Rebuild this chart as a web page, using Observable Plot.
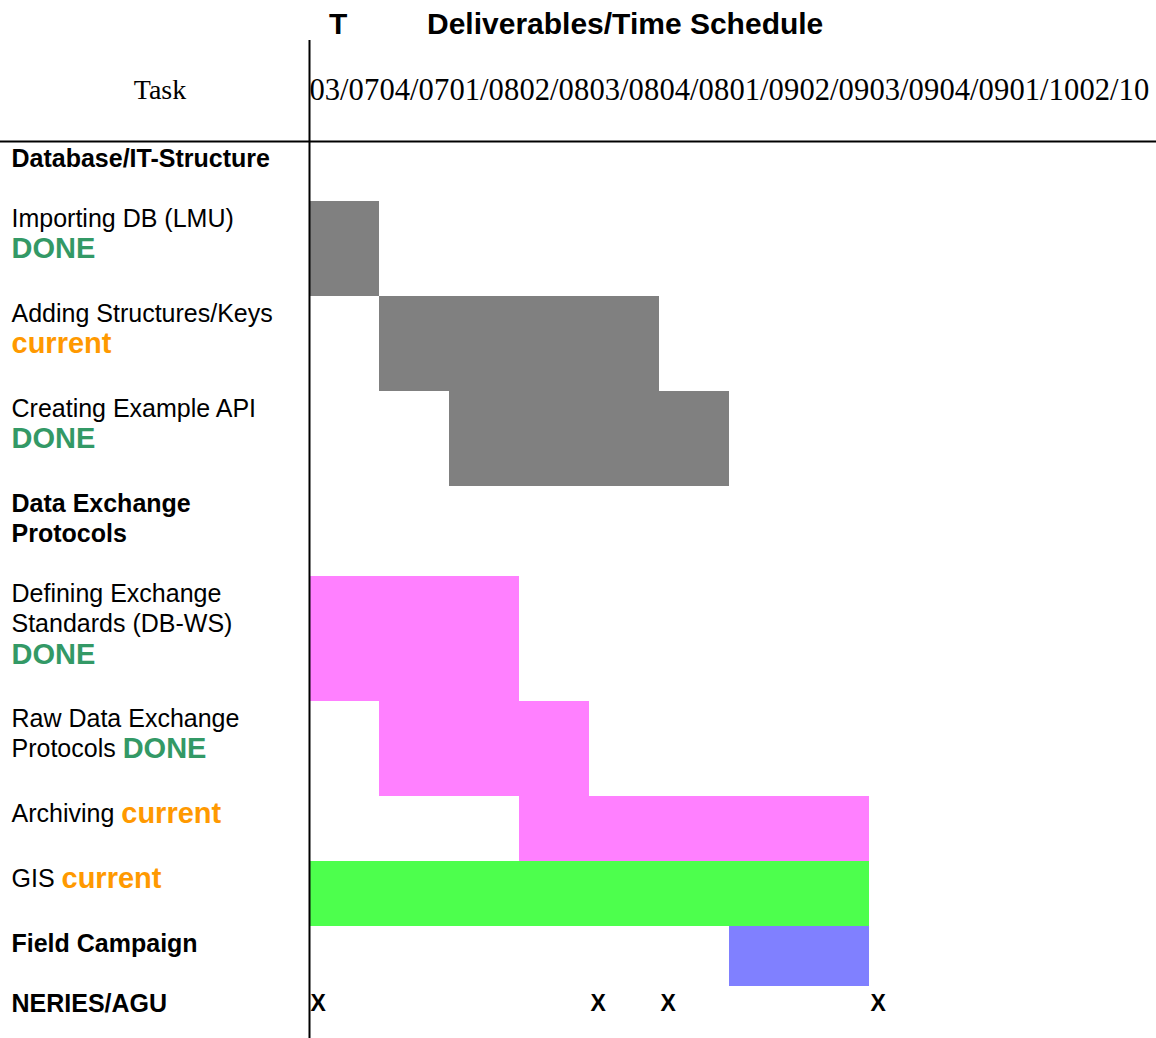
<!DOCTYPE html>
<html><head><meta charset="utf-8">
<script src="https://cdn.jsdelivr.net/npm/d3@7"></script>
<script src="https://cdn.jsdelivr.net/npm/@observablehq/plot@0.6"></script>
<style>
body{margin:0;background:#fff;}
#title{position:relative;height:40px;width:1156px;font-family:"Liberation Sans",Arial,sans-serif;font-weight:bold;font-size:30px;color:#000;}
#title span{position:absolute;top:9px;line-height:1;white-space:nowrap;}
#chart svg{display:block;}
</style></head><body>
<div id="title"><span style="left:329px">T</span><span style="left:427px">Deliverables/Time Schedule</span></div>
<div id="chart"></div>
<script>
// ---- data ----
const quarters = ["03/07","04/07","01/08","02/08","03/08","04/08","01/09","02/09","03/09","04/09","01/10","02/10"];
const tasks = ["Database/IT-Structure","Importing DB (LMU)","Adding Structures/Keys","Creating Example API","Data Exchange\nProtocols","Defining Exchange\nStandards (DB-WS)","Raw Data Exchange\nProtocols","Archiving","GIS","Field Campaign","NERIES/AGU"];
const sectionHeader = [true,false,false,false,true,false,false,false,false,true,true];
const statusWord = ["","DONE","current","DONE","","DONE","DONE","current","current","",""];
const statusInline = [false,false,false,false,false,false,true,true,true,false,false];
const barTask  = ["Importing DB (LMU)","Adding Structures/Keys","Creating Example API","Defining Exchange\nStandards (DB-WS)","Raw Data Exchange\nProtocols","Archiving","GIS","Field Campaign"];
const barStart = ["03/07","04/07","01/08","03/07","04/07","02/08","03/07","01/09"];
const barEnd   = ["03/07","03/08","04/08","01/08","02/08","02/09","02/09","02/09"];
const barGroup = ["Database","Database","Database","Exchange","Exchange","Exchange","GIS","Field"];
const milestoneTask = "NERIES/AGU";
const milestones = ["03/07","03/08","04/08","03/09"];
const groups = ["Database","Exchange","GIS","Field"];
const groupColors = ["#808080","#ff80ff","#4dff4d","#8080ff"];
const statusColors = {DONE:"#339966", current:"#ff9900"};

// ---- layout ----
const W = 1156, H = 998;
const HEADER_MID = 50, HEADER_BOTTOM = 101;
const LINE = 30.5, FIRST = 17;
const SANS = "Liberation Sans, Arial, sans-serif";
const SERIF = "Liberation Serif, Times New Roman, serif";
const LABEL_SIZE = 25, STATUS_SIZE = 29;

const qi = q => quarters.indexOf(q);
const rowTop = [], rowH = [];
let acc = HEADER_BOTTOM;
tasks.forEach((t, i) => {
  const n = t.split("\n").length + (statusWord[i] && !statusInline[i] ? 1 : 0);
  const h = 30 * n + (sectionHeader[i] ? 30 : 35);
  rowTop.push(acc); rowH.push(h); acc += h;
});
const ti = t => tasks.indexOf(t);

const ctx = document.createElement("canvas").getContext("2d");
ctx.font = `${LABEL_SIZE}px "Liberation Sans"`;

const labelLines = [];
tasks.forEach((t, i) => t.split("\n").forEach((line, j) =>
  labelLines.push({text: line, y: rowTop[i] + FIRST + LINE * j, bold: sectionHeader[i]})));

const statusItems = tasks.map((t, i) => {
  if (!statusWord[i]) return null;
  const lines = t.split("\n");
  if (statusInline[i]) {
    return {text: statusWord[i], y: rowTop[i] + FIRST + LINE * (lines.length - 1),
            dx: 11 + ctx.measureText(lines[lines.length - 1] + " ").width};
  }
  return {text: statusWord[i], y: rowTop[i] + FIRST + LINE * lines.length, dx: 11};
}).filter(d => d);

const bars = barTask.map((t, i) => ({task: t, start: barStart[i], end: barEnd[i], group: barGroup[i]}));

const chart = Plot.plot({
  width: W, height: H, margin: 0,
  x: {domain: [0, 12], range: [309, 1149], axis: null},
  y: {type: "identity", axis: null},
  color: {domain: groups, range: groupColors},
  marks: [
    Plot.rect(bars, {
      x1: d => qi(d.start), x2: d => qi(d.end) + 1,
      y1: d => rowTop[ti(d.task)], y2: d => rowTop[ti(d.task)] + rowH[ti(d.task)],
      fill: "group"
    }),
    Plot.ruleY([HEADER_BOTTOM], {stroke: "#000", strokeWidth: 2}),
    Plot.ruleX([0], {y1: 0, y2: H, stroke: "#000", strokeWidth: 2}),
    Plot.text(["Task"], {frameAnchor: "left", dx: 159.5, y: () => HEADER_MID, text: d => d,
      textAnchor: "middle", fontFamily: SERIF, fontSize: 28, fill: "#000"}),
    Plot.text(quarters, {x: (d, i) => i, y: () => HEADER_MID, text: d => d,
      textAnchor: "start", fontFamily: SERIF, fontSize: 30.6, fill: "#000"}),
    Plot.text(labelLines.filter(d => !d.bold), {frameAnchor: "left", dx: 11, y: "y", text: "text",
      textAnchor: "start", fontFamily: SANS, fontSize: LABEL_SIZE, fill: "#000"}),
    Plot.text(labelLines.filter(d => d.bold), {frameAnchor: "left", dx: 11, y: "y", text: "text",
      textAnchor: "start", fontFamily: SANS, fontSize: LABEL_SIZE, fontWeight: "bold", fill: "#000"}),
    ...statusItems.map(s => Plot.text([s], {frameAnchor: "left", dx: s.dx, y: "y", text: "text",
      textAnchor: "start", fontFamily: SANS, fontSize: STATUS_SIZE, fontWeight: "bold",
      fill: statusColors[s.text]})),
    Plot.text(milestones, {x: d => qi(d), dx: 1,
      y: () => rowTop[ti(milestoneTask)] + FIRST, text: () => "X",
      textAnchor: "start", fontFamily: SANS, fontSize: 23, fontWeight: "bold", fill: "#000"})
  ]
});
document.getElementById("chart").appendChild(chart);
</script>
</body></html>
